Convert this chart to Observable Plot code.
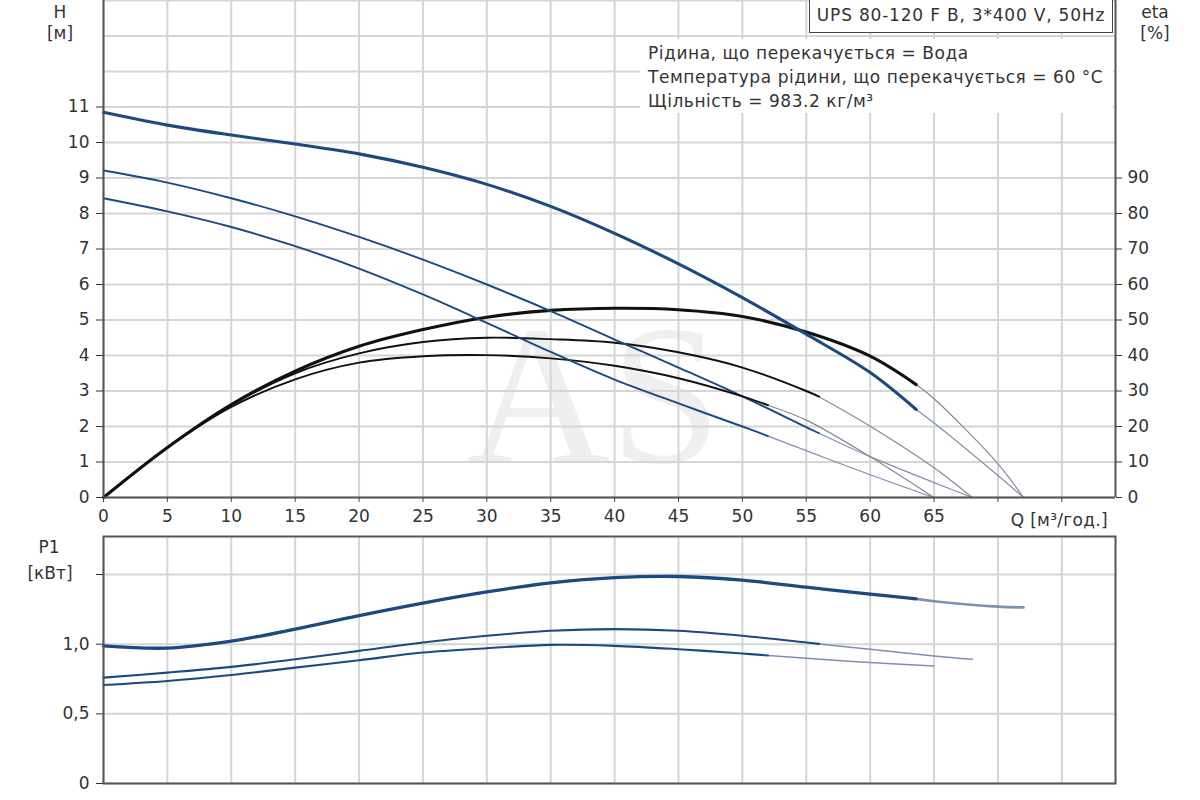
<!DOCTYPE html>
<html>
<head>
<meta charset="utf-8">
<script src="https://cdn.jsdelivr.net/npm/d3@7"></script>
<script src="https://cdn.jsdelivr.net/npm/@observablehq/plot@0.6"></script>
<style>
  html, body { margin: 0; padding: 0; background: #fff; }
  #wrap { position: relative; width: 1200px; height: 800px; overflow: hidden; font-family: "DejaVu Sans", sans-serif; color: #333; }
  #top, #bottom { position: absolute; left: 0; }
  #top { top: 0; }
  #bottom { top: 530px; }
  .lbl { position: absolute; font-size: 17px; line-height: 20px; transform: translate(-50%, -50%); white-space: nowrap; }
  #legend { position: absolute; left: 809px; top: -2px; width: 304px; height: 35px; box-sizing: border-box; border: 1.5px solid #444; background: #fff; font-size: 17px; line-height: 33px; text-align: center; letter-spacing: 0.8px; white-space: nowrap; }
  #info { position: absolute; left: 640px; top: 39px; width: 473px; height: 74px; background: #fff; padding: 2px 0 0 8px; box-sizing: border-box; font-size: 17px; line-height: 24px; letter-spacing: 0.55px; white-space: nowrap; }
  #qlabel { position: absolute; right: 92px; top: 510px; font-size: 17px; line-height: 20px; letter-spacing: 0.3px; white-space: nowrap; }
</style>
</head>
<body>
<div id="wrap">
  <div id="top"></div>
  <div id="bottom"></div>
  <div id="legend">UPS 80-120 F B, 3*400 V, 50Hz</div>
  <div id="info">Рідина, що перекачується = Вода<br>Температура рідини, що перекачується = 60 °C<br>Щільність = 983.2 кг/м³</div>
  <div class="lbl" style="left:60px;top:12px">H</div>
  <div class="lbl" style="left:60px;top:33px">[м]</div>
  <div class="lbl" style="left:1155px;top:12px">eta</div>
  <div class="lbl" style="left:1155px;top:33px">[%]</div>
  <div id="qlabel">Q [м³/год.]</div>
  <div class="lbl" style="left:49px;top:547px">P1</div>
  <div class="lbl" style="left:50px;top:573px">[кВт]</div>
</div>
<script>
// ---------- data ----------
const X_MAX = 79.2;
const X_GRID = [0, 5, 10, 15, 20, 25, 30, 35, 40, 45, 50, 55, 60, 65, 70, 75];
const X_LABELS = [0, 5, 10, 15, 20, 25, 30, 35, 40, 45, 50, 55, 60, 65];
const H_GRID = [0, 1, 2, 3, 4, 5, 6, 7, 8, 9, 10, 11, 12, 13, 14];
const H_TICKS = [0, 1, 2, 3, 4, 5, 6, 7, 8, 9, 10, 11];
const ETA_TICKS = [0, 10, 20, 30, 40, 50, 60, 70, 80, 90];
const P1_TICKS = [0, 0.5, 1.0, 1.5];
const P1_LABELS = ["0", "0,5", "1,0", ""];

// max speed curve
const Q_MAX   = [0, 5, 10, 15, 20, 25, 30, 35, 40, 45, 50, 55, 60, 63.6, 65, 70, 72];
const H_MAX   = [10.85, 10.49, 10.21, 9.96, 9.68, 9.30, 8.82, 8.20, 7.44, 6.58, 5.63, 4.60, 3.52, 2.48, 2.1, 0.62, 0];
const ETA_MAX = [0, 14.1, 26.2, 35.6, 42.6, 47.3, 50.8, 52.7, 53.3, 52.9, 51.0, 46.6, 39.8, 31.8, 27.8, 9.5, 0];
const P1_MAX  = [0.988, 0.972, 1.022, 1.108, 1.205, 1.295, 1.375, 1.44, 1.478, 1.486, 1.46, 1.409, 1.36, 1.325, 1.308, 1.269, 1.264];
const SPLIT_MAX = 63.6;

// middle speed curve
const Q_MID   = [0, 5, 10, 15, 20, 25, 30, 35, 40, 45, 50, 55, 56, 60, 65, 68];
const H_MID   = [9.21, 8.87, 8.43, 7.92, 7.34, 6.70, 6.0, 5.25, 4.45, 3.66, 2.85, 1.98, 1.81, 1.15, 0.42, 0];
const ETA_MID = [0, 14.0, 26.0, 35.0, 40.6, 43.8, 45.0, 44.6, 43.6, 40.9, 36.6, 30.0, 28.4, 20.1, 8.4, 0];
const P1_MID  = [0.76, 0.796, 0.837, 0.892, 0.952, 1.012, 1.06, 1.096, 1.108, 1.096, 1.06, 1.012, 1.002, 0.964, 0.916, 0.892];
const SPLIT_MID = 56;

// low speed curve
const Q_LOW   = [0, 5, 10, 15, 20, 25, 30, 35, 40, 45, 50, 52, 55, 60, 65];
const H_LOW   = [8.43, 8.06, 7.62, 7.08, 6.45, 5.72, 4.92, 4.1, 3.32, 2.65, 2.0, 1.73, 1.32, 0.64, 0];
const ETA_LOW = [0, 14.0, 25.5, 33.3, 38.0, 39.8, 40.1, 39.2, 37.1, 33.6, 28.5, 26.0, 21.8, 11.5, 0];
const P1_LOW  = [0.707, 0.736, 0.779, 0.832, 0.885, 0.94, 0.971, 0.995, 0.988, 0.964, 0.933, 0.919, 0.899, 0.868, 0.844];
const SPLIT_LOW = 52;

// ---------- build tables ----------
function rows(q, v, id) { return q.map((x, i) => ({ q: x, v: v[i], id })); }
function op(r, s) { return r.filter(d => d.q <= s); }
function ext(r, s) { return r.filter(d => d.q >= s); }

const curves = [
  { id: "max", q: Q_MAX, h: H_MAX, eta: ETA_MAX, p1: P1_MAX, split: SPLIT_MAX, w: 3.3 },
  { id: "mid", q: Q_MID, h: H_MID, eta: ETA_MID, p1: P1_MID, split: SPLIT_MID, w: 2.1 },
  { id: "low", q: Q_LOW, h: H_LOW, eta: ETA_LOW, p1: P1_LOW, split: SPLIT_LOW, w: 2.1 }
];

const BLUE = "#1b4a82";
const BLUE_THIN = "#7d90b3";
const BLACK = "#111";
const GREY_THIN = "#8a8a8a";
const GRID = "#d5d5d5";
const AXIS = "#555";
const FONT = "DejaVu Sans";
const CURVE = "catmull-rom";

const topMarks = [
  Plot.text(["AS"], { frameAnchor: "middle", dx: -16, dy: 149, fontSize: 200, fontFamily: "Liberation Serif", fill: "#efefef" }),
  Plot.gridX(X_GRID, { stroke: GRID, strokeOpacity: 1, strokeWidth: 2 }),
  Plot.gridY(H_GRID, { stroke: GRID, strokeOpacity: 1, strokeWidth: 2 })
];
const botMarks = [
  Plot.gridX(X_GRID, { stroke: GRID, strokeOpacity: 1, strokeWidth: 2 }),
  Plot.gridY(P1_TICKS, { stroke: GRID, strokeOpacity: 1, strokeWidth: 2 })
];

for (const c of curves) {
  const hr = rows(c.q, c.h, c.id);
  const er = rows(c.q, c.eta, c.id);
  const pr = rows(c.q, c.p1, c.id);
  topMarks.push(
    Plot.line(ext(er, c.split), { x: "q", y: d => d.v / 10, stroke: GREY_THIN, strokeWidth: 1.2, curve: CURVE }),
    Plot.line(ext(hr, c.split), { x: "q", y: "v", stroke: BLUE_THIN, strokeWidth: 1.2, curve: CURVE })
  );
  botMarks.push(
    Plot.line(ext(pr, c.split), { x: "q", y: "v", stroke: BLUE_THIN, strokeWidth: c.w - 0.6, curve: CURVE })
  );
}
for (const c of curves) {
  const hr = rows(c.q, c.h, c.id);
  const er = rows(c.q, c.eta, c.id);
  const pr = rows(c.q, c.p1, c.id);
  topMarks.push(
    Plot.line(op(er, c.split), { x: "q", y: d => d.v / 10, stroke: BLACK, strokeWidth: c.w - 0.2, curve: CURVE }),
    Plot.line(op(hr, c.split), { x: "q", y: "v", stroke: BLUE, strokeWidth: c.w - 0.2, curve: CURVE })
  );
  botMarks.push(
    Plot.line(op(pr, c.split), { x: "q", y: "v", stroke: BLUE, strokeWidth: c.w, curve: CURVE })
  );
}

topMarks.push(
  Plot.ruleX([0, X_MAX], { stroke: AXIS, strokeWidth: 2 }),
  Plot.ruleY([0], { stroke: AXIS, strokeWidth: 2 }),
  Plot.axisX(X_GRID, { anchor: "bottom", tickSize: 5, tickPadding: 7, fontSize: 17, fontFamily: FONT, stroke: "#444", fill: "#333", label: null,
    tickFormat: d => X_LABELS.includes(d) ? String(d) : "" }),
  Plot.axisY(H_TICKS, { anchor: "left", tickSize: 7, tickPadding: 7, fontSize: 17, fontFamily: FONT, stroke: "#333", fill: "#333", label: null }),
  Plot.axisY(ETA_TICKS.map(d => d / 10), { anchor: "right", tickSize: 6, tickPadding: 6, fontSize: 17, fontFamily: FONT, stroke: "#333", fill: "#333", label: null,
    tickFormat: d => String(Math.round(d * 10)) })
);

botMarks.push(
  Plot.frame({ stroke: AXIS, strokeWidth: 2 }),
  Plot.axisY(P1_TICKS, { anchor: "left", tickSize: 7, tickPadding: 7, fontSize: 17, fontFamily: FONT, stroke: "#333", fill: "#333", label: null,
    tickFormat: d => P1_LABELS[P1_TICKS.indexOf(d)] })
);

const topChart = Plot.plot({
  width: 1200, height: 530,
  marginLeft: 103, marginRight: 85, marginTop: 0, marginBottom: 33,
  style: { fontFamily: FONT, fontSize: "17px", color: "#333", background: "transparent", overflow: "visible" },
  x: { domain: [0, X_MAX], axis: null, label: null },
  y: { domain: [0, 14], axis: null, label: null },
  marks: topMarks
});
document.getElementById("top").appendChild(topChart);

const botChart = Plot.plot({
  width: 1200, height: 270,
  marginLeft: 103, marginRight: 85, marginTop: 6, marginBottom: 17,
  style: { fontFamily: FONT, fontSize: "17px", color: "#333", background: "transparent", overflow: "visible" },
  x: { domain: [0, X_MAX], axis: null, label: null },
  y: { domain: [0, 1.773], axis: null, label: null },
  marks: botMarks
});
document.getElementById("bottom").appendChild(botChart);
</script>
</body>
</html>
